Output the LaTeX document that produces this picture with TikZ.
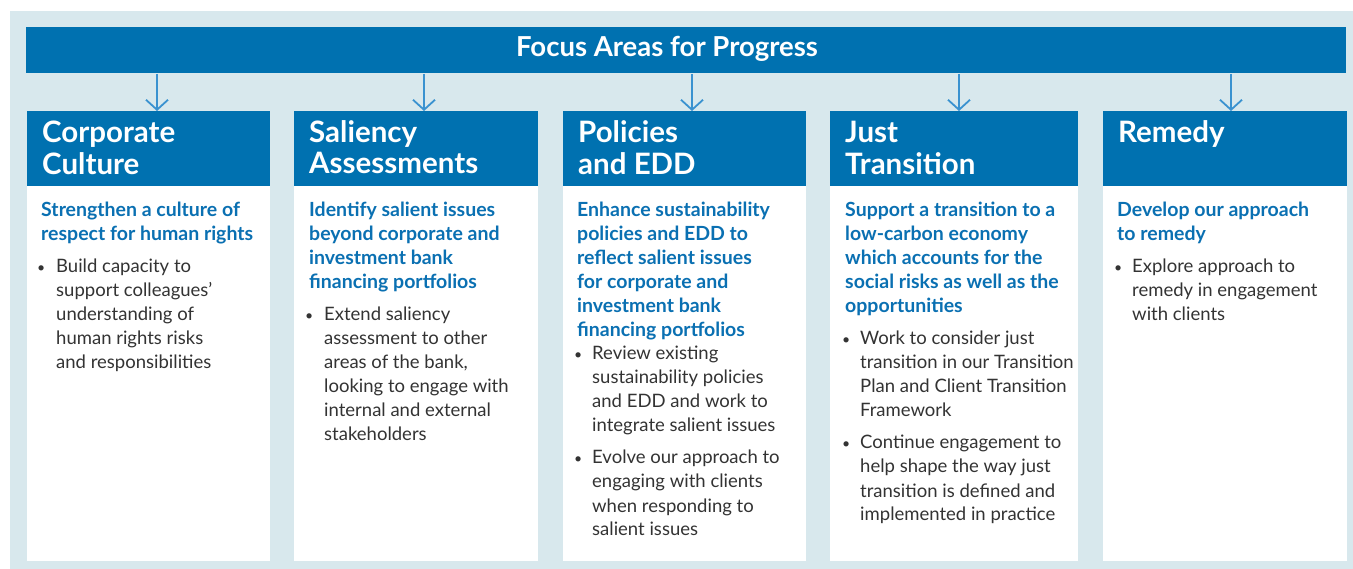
\documentclass[tikz,border=0pt]{standalone}
\usepackage{fontspec}
\setmainfont{Lato}
\usetikzlibrary{arrows.meta}
\definecolor{bgc}{HTML}{D8E8ED}
\definecolor{hdrc}{HTML}{0071B0}
\definecolor{arrc}{HTML}{3A92D0}
\definecolor{ttxt}{HTML}{0A70B2}
\definecolor{btxt}{HTML}{333333}
\newcommand{\lns}[1]{\begin{tabular}[t]{@{}l@{}}#1\end{tabular}}
\tikzset{
  hdrbox/.style={fill=hdrc, anchor=north west, inner sep=0pt, minimum width=1320pt, minimum height=46pt},
  titlebox/.style={fill=hdrc, anchor=north west, inner sep=0pt, minimum width=#1, minimum height=75pt},
  bodybox/.style={fill=white, anchor=north west, inner sep=0pt, minimum width=#1, minimum height=375pt},
  ttl/.style={anchor=base west, inner sep=0pt, text=white, font=\fontsize{29.5}{31}\selectfont\bfseries},
  headtxt/.style={anchor=base west, inner sep=0pt, text=ttxt, font=\fontsize{19.5}{24}\selectfont\bfseries},
  bultxt/.style={anchor=base west, inner sep=0pt, text=btxt, font=\fontsize{18.5}{24}\selectfont},
  dotc/.style={anchor=base west, inner sep=0pt, text=btxt, font=\fontsize{14}{24}\selectfont},
  arr/.style={draw=arrc, line width=1.8pt, -{Straight Barb[length=10pt,width=22pt,line width=1.8pt]}}
}
\begin{document}
\begin{tikzpicture}[x=1pt,y=-1pt]
\useasboundingbox (0,0) rectangle (1353,569);
\fill[bgc] (10,11) rectangle (1353,569);
\node[hdrbox] (hdr) at (26,27) {};
\node[anchor=base, inner sep=0pt, text=white, font=\fontsize{27.5}{30}\selectfont\bfseries] (hdrt) at (667,57) {Focus Areas for Progress};

% card boxes
\node[titlebox=243pt] (t1) at (27,111) {};
\node[bodybox=243pt] (b1) at (27,186) {};
\node[titlebox=244pt] (t2) at (294,111) {};
\node[bodybox=244pt] (b2) at (294,186) {};
\node[titlebox=243pt] (t3) at (563,111) {};
\node[bodybox=243pt] (b3) at (563,186) {};
\node[titlebox=248pt] (t4) at (830,111) {};
\node[bodybox=248pt] (b4) at (830,186) {};
\node[titlebox=244pt] (t5) at (1103,111) {};
\node[bodybox=244pt] (b5) at (1103,186) {};

% arrows
\coordinate (a1) at (157,74);
\coordinate (a2) at (424,74);
\coordinate (a3) at (692,74);
\coordinate (a4) at (959,74);
\coordinate (a5) at (1231,74);
\draw[arr] (a1) -- (a1 |- t1.north);
\draw[arr] (a2) -- (a2 |- t2.north);
\draw[arr] (a3) -- (a3 |- t3.north);
\draw[arr] (a4) -- (a4 |- t4.north);
\draw[arr] (a5) -- (a5 |- t5.north);

% titles
\node[ttl] (tt1) at (42,143) {\lns{Corporate\\Culture}};
\node[ttl] (tt2) at (309,143) {\lns{Saliency\\Assessments}};
\node[ttl] (tt3) at (578,143) {\lns{Policies\\and EDD}};
\node[ttl] (tt4) at (845,143) {\lns{Just\\Transition}};
\node[ttl] (tt5) at (1118,143) {\lns{Remedy}};

% card 1
\node[headtxt] (h1) at (41,217) {\lns{Strengthen a culture of\\respect for human rights}};
\node[dotc] (d11) at (37,273) {•};
\node[bultxt] (p11) at (56,273) {\lns{Build capacity to\\support colleagues’\\understanding of\\human rights risks\\and responsibilities}};

% card 2
\node[headtxt] (h2) at (309,217) {\lns{Identify salient issues\\beyond corporate and\\investment bank\\financing portfolios}};
\node[dotc] (d21) at (305,321) {•};
\node[bultxt] (p21) at (324,321) {\lns{Extend saliency\\assessment to other\\areas of the bank,\\looking to engage with\\internal and external\\stakeholders}};

% card 3
\node[headtxt] (h3) at (577,217) {\lns{Enhance sustainability\\policies and EDD to\\reflect salient issues\\for corporate and\\investment bank\\financing portfolios}};
\node[dotc] (d31) at (574,360) {•};
\node[bultxt] (p31) at (592,360) {\lns{Review existing\\sustainability policies\\and EDD and work to\\integrate salient issues}};
\node[dotc] (d32) at (574,464) {•};
\node[bultxt] (p32) at (592,464) {\lns{Evolve our approach to\\engaging with clients\\when responding to\\salient issues}};

% card 4
\node[headtxt] (h4) at (845,217) {\lns{Support a transition to a\\low-carbon economy\\which accounts for the\\social risks as well as the\\opportunities}};
\node[dotc] (d41) at (842,345) {•};
\node[bultxt] (p41) at (860,345) {\lns{Work to consider just\\transition in our Transition\\Plan and Client Transition\\Framework}};
\node[dotc] (d42) at (842,449) {•};
\node[bultxt] (p42) at (860,449) {\lns{Continue engagement to\\help shape the way just\\transition is defined and\\implemented in practice}};

% card 5
\node[headtxt] (h5) at (1117,217) {\lns{Develop our approach\\to remedy}};
\node[dotc] (d51) at (1114,273) {•};
\node[bultxt] (p51) at (1132,273) {\lns{Explore approach to\\remedy in engagement\\with clients}};
\end{tikzpicture}
\end{document}
